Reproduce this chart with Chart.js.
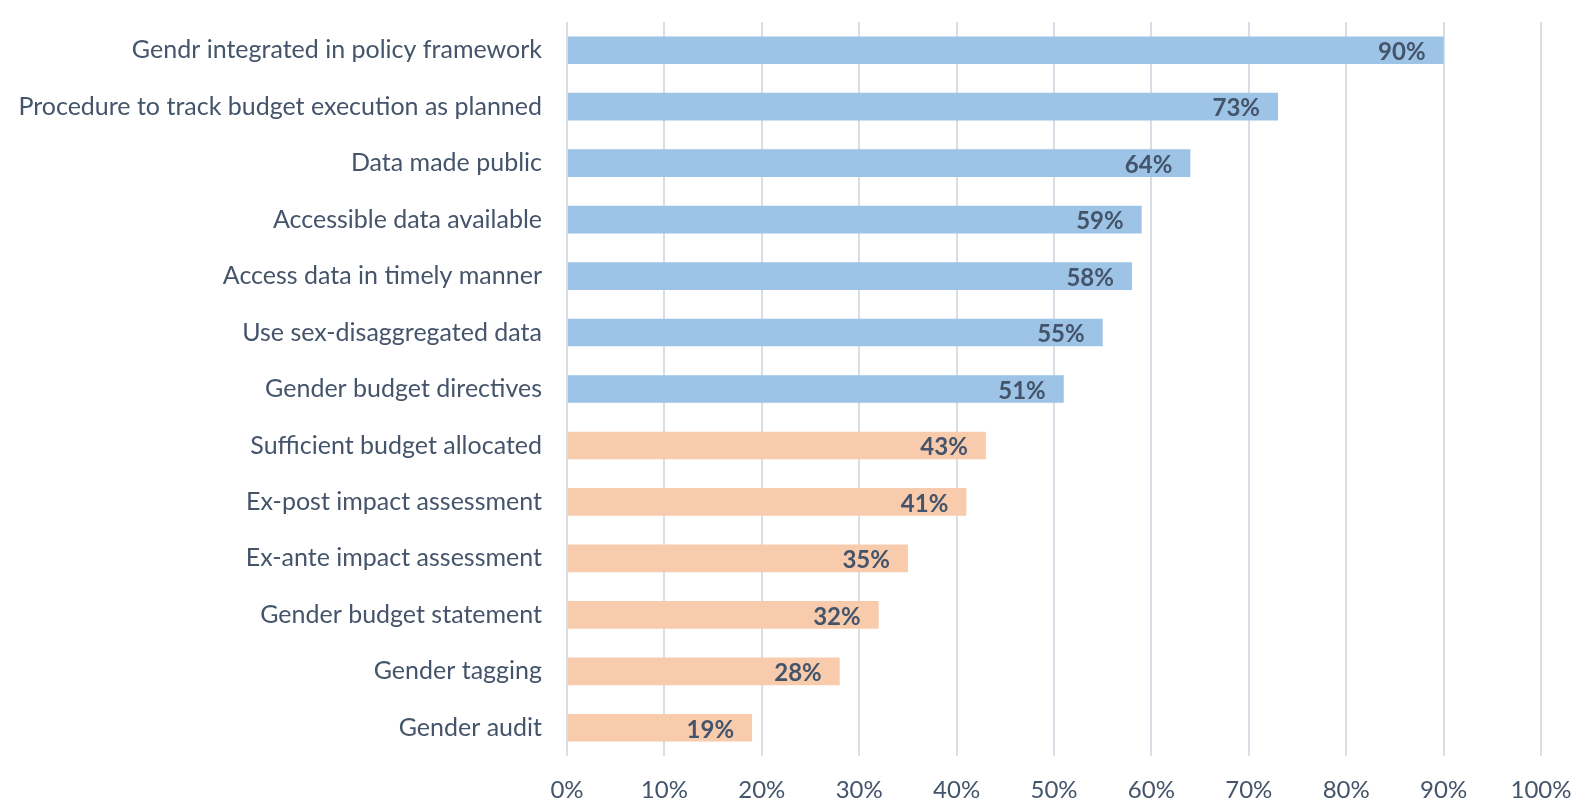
<!DOCTYPE html>
<html>
<head>
<meta charset="utf-8">
<script src="https://cdn.jsdelivr.net/npm/chart.js@4"></script>
<style>
  html, body { margin: 0; padding: 0; background: #fff; }
  #wrap { width: 1574px; height: 802px; }
</style>
</head>
<body>
<div id="wrap"><canvas id="graph" width="1574" height="802"></canvas></div>
<script>
var categories = [
    'Gendr integrated in policy framework',
    'Procedure to track budget execution as planned',
    'Data made public',
    'Accessible data available',
    'Access data in timely manner',
    'Use sex-disaggregated data',
    'Gender budget directives',
    'Sufficient budget allocated',
    'Ex-post impact assessment',
    'Ex-ante impact assessment',
    'Gender budget statement',
    'Gender tagging',
    'Gender audit'
];
var values = [90, 73, 64, 59, 58, 55, 51, 43, 41, 35, 32, 28, 19];
var bar_colors = ['#9dc3e6', '#9dc3e6', '#9dc3e6', '#9dc3e6', '#9dc3e6', '#9dc3e6', '#9dc3e6',
    '#f8cbad', '#f8cbad', '#f8cbad', '#f8cbad', '#f8cbad', '#f8cbad'];
var x_ticks = [0, 10, 20, 30, 40, 50, 60, 70, 80, 90, 100];

var text_color = '#44546a';
var font_family = 'Lato, "Noto Sans", sans-serif';

// les etiquettes en gras au bout des barres
var bar_labels = {
    id: 'bar_labels',
    afterDatasetsDraw(chart) {
        let ctx = chart.ctx;
        let meta = chart.getDatasetMeta(0);
        ctx.save();
        ctx.font = 'bold 24px ' + font_family;
        ctx.fillStyle = text_color;
        ctx.textAlign = 'right';
        ctx.textBaseline = 'middle';
        meta.data.forEach((bar, i) => {
            ctx.fillText(values[i] + '%', bar.x - 18, bar.y + 2);
        });
        ctx.restore();
    }
};

window.onload = ()=>{
    var chart = new Chart('graph', {
        type: 'bar',
        data: {
            labels: categories,
            datasets: [{
                data: values,
                backgroundColor: bar_colors,
                borderWidth: 0,
                categoryPercentage: 1,
                barPercentage: 0.49
            }]
        },
        options: {
            indexAxis: 'y',
            responsive: false,
            animation: false,
            layout: { padding: { top: 22, right: 33, bottom: 0, left: 0 } },
            plugins: {
                legend: { display: false },
                tooltip: { enabled: false }
            },
            scales: {
                x: {
                    min: 0,
                    max: 100,
                    afterBuildTicks: (axis) => { axis.ticks = x_ticks.map(v => ({ value: v })); },
                    afterFit: (axis) => {
                        axis.height = 46;
                        axis.paddingLeft = 0;
                        axis.paddingRight = 0;
                    },
                    grid: { color: '#d9dee6', lineWidth: 2, drawTicks: false },
                    border: { display: false },
                    ticks: {
                        padding: 20,
                        color: text_color,
                        font: { size: 24, family: font_family },
                        callback: (v) => v + '%'
                    }
                },
                y: {
                    afterFit: (axis) => {
                        axis.width = 567;
                        axis.paddingTop = 0;
                        axis.paddingBottom = 0;
                    },
                    grid: { display: false, drawTicks: false },
                    border: { display: false },
                    ticks: {
                        padding: 25,
                        color: text_color,
                        font: { size: 25, family: font_family }
                    }
                }
            }
        },
        plugins: [bar_labels]
    });
};
</script>
</body>
</html>
